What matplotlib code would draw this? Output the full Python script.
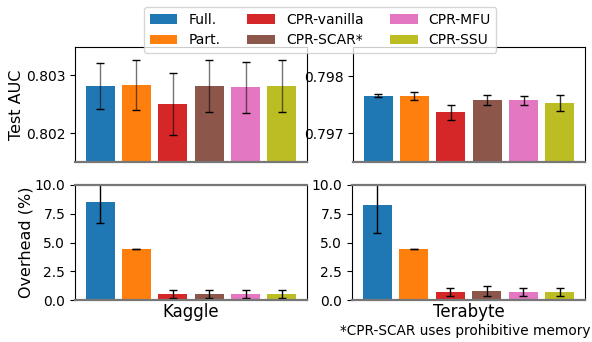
import numpy as np
import matplotlib
matplotlib.use("Agg")
import matplotlib.pyplot as plt

methods = ["Full.", "Part.", "CPR-vanilla", "CPR-SCAR*", "CPR-MFU", "CPR-SSU"]
colors = ["tab:blue", "tab:orange", "tab:red", "tab:brown", "tab:pink", "tab:olive"]

kaggle_auc = [0.80281, 0.80283, 0.80250, 0.80281, 0.80279, 0.80281]
kaggle_auc_err = [0.00040, 0.00043, 0.00053, 0.00045, 0.00044, 0.00044]
terabyte_auc = [0.79766, 0.79765, 0.79737, 0.79758, 0.79758, 0.79753]
terabyte_auc_err = [0.00002, 0.00007, 0.00013, 0.00009, 0.00008, 0.00014]

kaggle_ovh = [8.52, 4.43, 0.52, 0.52, 0.52, 0.52]
kaggle_ovh_err = [1.85, 0.01, 0.36, 0.37, 0.37, 0.35]
terabyte_ovh = [8.26, 4.43, 0.70, 0.78, 0.70, 0.70]
terabyte_ovh_err = [2.46, 0.01, 0.36, 0.40, 0.36, 0.36]

fig = plt.figure(figsize=(5.92, 3.42), dpi=100)
W, H = 592.0, 342.0

def box(x0, y0, x1, y1):
    return [x0/W, 1-y1/H, (x1-x0)/W, (y1-y0)/H]

ax_tl = fig.add_axes(box(75, 47, 307, 162))
ax_tr = fig.add_axes(box(353, 47, 585, 162))
ax_bl = fig.add_axes(box(75, 185, 307, 300))
ax_br = fig.add_axes(box(352, 185, 585, 300))

x = np.arange(len(methods))

def draw(ax, vals, errs, alpha_line):
    bars = ax.bar(x, vals, yerr=errs, color=colors, capsize=3,
                  error_kw=dict(ecolor="black", elinewidth=1, capthick=1))
    for lc in bars.errorbar.lines[2]:
        lc.set_alpha(alpha_line)
    ax.set_xticks([])
    ax.tick_params(labelsize=10)
    return bars

handles = draw(ax_tl, kaggle_auc, kaggle_auc_err, 0.55)
draw(ax_tr, terabyte_auc, terabyte_auc_err, 0.8)
draw(ax_bl, kaggle_ovh, kaggle_ovh_err, 1.0)
draw(ax_br, terabyte_ovh, terabyte_ovh_err, 1.0)

ax_tl.set_ylim(0.80151, 0.80348)
ax_tl.set_yticks([0.802, 0.803])
ax_tl.set_yticklabels(["0.802", "0.803"])
ax_tr.set_ylim(0.79650, 0.79851)
ax_tr.set_yticks([0.797, 0.798])
ax_tr.set_yticklabels(["0.797", "0.798"])
for ax in (ax_bl, ax_br):
    ax.set_ylim(0, 10)
    ax.set_yticks([0, 2.5, 5, 7.5, 10])
    ax.set_yticklabels(["0.0", "2.5", "5.0", "7.5", "10.0"])

for ax in (ax_tl, ax_tr):
    ax.spines["bottom"].set_color("#777777")
    ax.spines["bottom"].set_linewidth(1.6)
for ax in (ax_bl, ax_br):
    for s in ("top", "bottom"):
        ax.spines[s].set_color("#777777")
        ax.spines[s].set_linewidth(1.6)

ax_tl.set_ylabel("Test AUC", fontsize=11.5, labelpad=1)
ax_bl.set_ylabel("Overhead (%)", fontsize=11.5, labelpad=1)
ax_bl.set_xlabel("Kaggle", fontsize=12, labelpad=2)
ax_br.set_xlabel("Terabyte", fontsize=12, labelpad=2)

fig.legend(handles, methods, loc="upper center", bbox_to_anchor=(0.541, 1.0),
           ncol=3, fontsize=10, handlelength=2.0, columnspacing=1.9,
           handletextpad=0.8, borderpad=0.4, labelspacing=0.5)

fig.text(0.997, 0.032, "*CPR-SCAR uses prohibitive memory", ha="right", va="center",
         fontsize=9.8)

fig.savefig("out.png", dpi=100)
